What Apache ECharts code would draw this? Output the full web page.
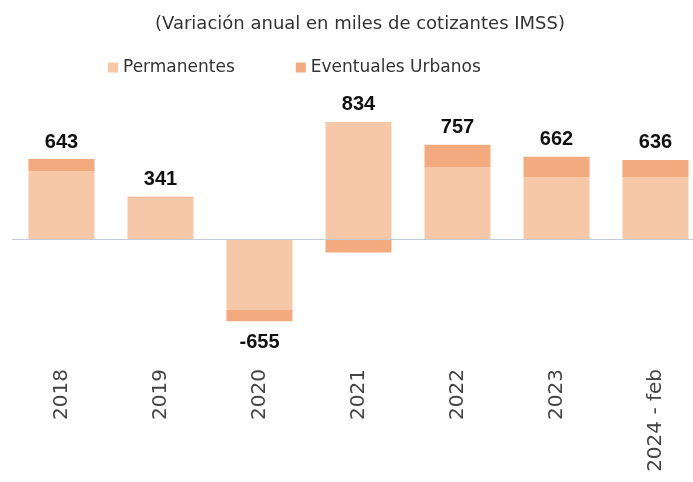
<!DOCTYPE html>
<html>
<head>
<meta charset="utf-8">
<script src="https://cdn.jsdelivr.net/npm/echarts@6/dist/echarts.min.js"></script>
<style>
  html, body { margin: 0; padding: 0; background: #fff; }
  #chart { width: 693px; height: 482px; }
</style>
</head>
<body>
<div id="chart"></div>
<script>
// annual change, thousands of IMSS contributors
const categories = ["2018", "2019", "2020", "2021", "2022", "2023", "2024 - feb"];
const permanentes = [547, 333, -561, 940, 575, 497, 500];
const eventuales = [96, 8, -94, -106, 182, 165, 136];
const totales = [643, 341, -655, 834, 757, 662, 636];

const labelFont = {
  fontFamily: "Liberation Sans, Arial, sans-serif",
  fontWeight: "bold",
  fontSize: 20,
  color: "#111"
};

// total label goes on whichever segment sticks out furthest
function buildData(values, isEventual) {
  return values.map((v, i) => {
    const tot = totales[i];
    let pos = null;
    if (tot >= 0) {
      const evTop = eventuales[i] > 0;
      if (evTop === isEventual) pos = "top";
    } else {
      const evBottom = eventuales[i] < 0;
      if (evBottom === isEventual) pos = "bottom";
    }
    if (!pos) return { value: v };
    return {
      value: v,
      label: {
        show: true,
        position: pos,
        distance: pos === "top" ? 7 : 11,
        formatter: () => String(tot),
        ...labelFont
      }
    };
  });
}

const chart = echarts.init(document.getElementById("chart"));
chart.setOption({
  animation: false,
  backgroundColor: "#fff",
  title: {
    text: "(Variación anual en miles de cotizantes IMSS)",
    left: 150,
    top: 10,
    textStyle: {
      fontFamily: "DejaVu Sans, sans-serif",
      fontWeight: "normal",
      fontSize: 18,
      color: "#333"
    }
  },
  legend: {
    left: 103,
    top: 54,
    itemWidth: 10,
    itemHeight: 10,
    itemGap: 61,
    icon: "rect",
    textStyle: {
      fontFamily: "DejaVu Sans, sans-serif",
      fontSize: 17,
      color: "#333"
    },
    data: ["Permanentes", "Eventuales Urbanos"]
  },
  // plot runs past the right edge (the source image is cropped there)
  grid: { left: 12, top: 102, width: 693, height: 256, outerBoundsMode: "none" },
  xAxis: {
    type: "category",
    data: categories,
    axisLine: { show: false },
    axisTick: { show: false },
    axisLabel: {
      rotate: 90,
      margin: 11,
      interval: 0,
      fontFamily: "DejaVu Sans, sans-serif",
      fontSize: 20,
      color: "#444"
    }
  },
  yAxis: {
    type: "value",
    min: -950,
    max: 1100,
    show: false,
    splitLine: { show: false }
  },
  series: [
    {
      name: "Permanentes",
      type: "bar",
      stack: "total",
      barWidth: 66,
      itemStyle: { color: "#F6C8A7" },
      data: buildData(permanentes, false),
      markLine: {
        silent: true,
        symbol: "none",
        label: { show: false },
        lineStyle: { color: "#C3CBD6", width: 1, type: "solid" },
        data: [{ yAxis: 0 }]
      }
    },
    {
      name: "Eventuales Urbanos",
      type: "bar",
      stack: "total",
      barWidth: 66,
      itemStyle: { color: "#F2AA7E" },
      data: buildData(eventuales, true)
    }
  ]
});
</script>
</body>
</html>
